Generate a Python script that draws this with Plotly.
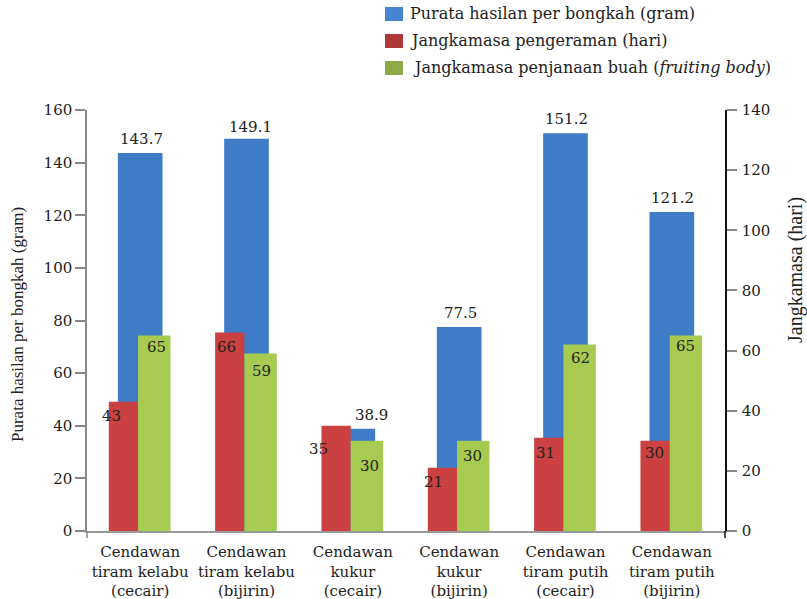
import plotly.graph_objects as go

# --- data -----------------------------------------------------------------
categories = [
    "Cendawan<br>tiram kelabu<br>(cecair)",
    "Cendawan<br>tiram kelabu<br>(bijirin)",
    "Cendawan<br>kukur<br>(cecair)",
    "Cendawan<br>kukur<br>(bijirin)",
    "Cendawan<br>tiram putih<br>(cecair)",
    "Cendawan<br>tiram putih<br>(bijirin)",
]
purata_hasilan = [143.7, 149.1, 38.9, 77.5, 151.2, 121.2]   # gram, left axis
pengeraman = [43, 66, 35, 21, 31, 30]                      # hari, right axis
penjanaan_buah = [65, 59, 30, 30, 62, 65]                  # hari, right axis

left_ticks = [0, 20, 40, 60, 80, 100, 120, 140, 160]
right_ticks = [0, 20, 40, 60, 80, 100, 120, 140]

series_names = [
    "Purata hasilan per bongkah (gram)",
    "Jangkamasa pengeraman (hari)",
    " Jangkamasa penjanaan buah (<i>fruiting body</i>)",
]

# --- styling --------------------------------------------------------------
W, H = 807, 599
ML, MR, MT, MB = 87, 82, 110, 68
FONT = "DejaVu Serif"
TXT = "#222222"
BLUE, RED, GREEN = "#3E7CC8", "#CB4040", "#A6CB50"
LEG_BLUE, LEG_RED, LEG_GREEN = "#4784D2", "#B03838", "#8CAB45"

# bar geometry in category units
BLUE_OFF, BLUE_W = -0.21, 0.42
RED_OFF, RED_W = -0.295, 0.275
GREEN_OFF, GREEN_W = -0.02, 0.305

# per-label nudges in pixels (x from the bar's reference edge/centre, y from the bar top)
blue_dx = [1, 4, 19, 1, 1, 1]
blue_dy = [14, 12, 14, 14, 14, 14]
red_dx = [3, 11, -3, 6, 11, 14]
red_dy = [-14, -14, -23, -14, -15, -12]
green_dx = [2, 1, 3, -1, 1, 0]
green_dy = [-11, -17, -25, -15, -13, -10]

pw, ph = W - ML - MR, H - MT - MB


def px_x(px):
    return (px - ML) / pw


def px_y(py):
    return (H - MB - py) / ph


x = list(range(len(categories)))

fig = go.Figure()
fig.add_trace(go.Bar(x=x, y=purata_hasilan, name=series_names[0], marker_color=BLUE,
                     marker_line_width=0, offset=BLUE_OFF, width=BLUE_W, yaxis="y",
                     showlegend=False))
fig.add_trace(go.Bar(x=x, y=pengeraman, name=series_names[1], marker_color=RED,
                     marker_line_width=0, offset=RED_OFF, width=RED_W, yaxis="y2",
                     showlegend=False))
fig.add_trace(go.Bar(x=x, y=penjanaan_buah, name=series_names[2], marker_color=GREEN,
                     marker_line_width=0, offset=GREEN_OFF, width=GREEN_W, yaxis="y2",
                     showlegend=False))

annotations = []
lab_font = dict(family=FONT, size=15, color=TXT)
for i in x:
    annotations.append(dict(x=i, y=purata_hasilan[i], xref="x", yref="y",
                            text=f"{purata_hasilan[i]:.1f}", showarrow=False,
                            xanchor="center", yanchor="middle",
                            xshift=blue_dx[i], yshift=blue_dy[i], font=lab_font))
    annotations.append(dict(x=i + RED_OFF, y=pengeraman[i], xref="x", yref="y2",
                            text=str(pengeraman[i]), showarrow=False,
                            xanchor="center", yanchor="middle",
                            xshift=red_dx[i], yshift=red_dy[i], font=lab_font))
    annotations.append(dict(x=i + GREEN_OFF + GREEN_W / 2, y=penjanaan_buah[i], xref="x", yref="y2",
                            text=str(penjanaan_buah[i]), showarrow=False,
                            xanchor="center", yanchor="middle",
                            xshift=green_dx[i], yshift=green_dy[i], font=lab_font))

# axis titles
annotations.append(dict(x=px_x(17), y=px_y(325), xref="paper", yref="paper",
                        text="Purata hasilan per bongkah (gram)", textangle=-90,
                        showarrow=False, xanchor="center", yanchor="middle",
                        font=dict(family="Liberation Serif", size=17, color=TXT)))
annotations.append(dict(x=px_x(795), y=px_y(270), xref="paper", yref="paper",
                        text="Jangkamasa (hari)", textangle=-90,
                        showarrow=False, xanchor="center", yanchor="middle",
                        font=dict(family="Liberation Serif", size=20, color=TXT)))

# legend
shapes = []
legend_rows = [(14, LEG_BLUE, 408), (41, LEG_RED, 408), (68, LEG_GREEN, 408)]
for (cy, col, tx), name in zip(legend_rows, series_names):
    shapes.append(dict(type="rect", xref="paper", yref="paper",
                       x0=px_x(385), x1=px_x(403), y0=px_y(cy - 7), y1=px_y(cy + 7),
                       fillcolor=col, line=dict(width=0)))
    annotations.append(dict(x=px_x(tx), y=px_y(cy), xref="paper", yref="paper",
                            text=name, showarrow=False, xanchor="left", yanchor="middle",
                            font=dict(family=FONT, size=16, color=TXT)))

# short axis stubs below the baseline
shapes.append(dict(type="line", xref="paper", yref="paper", x0=0, x1=0,
                   y0=px_y(531), y1=px_y(538), line=dict(color="#888888", width=1.5)))
shapes.append(dict(type="line", xref="paper", yref="paper", x0=1, x1=1,
                   y0=px_y(531), y1=px_y(538), line=dict(color="#111111", width=1.5)))

fig.update_layout(
    width=W, height=H,
    margin=dict(l=ML, r=MR, t=MT, b=MB, pad=0),
    paper_bgcolor="white", plot_bgcolor="white",
    barmode="overlay",
    font=dict(family=FONT, size=15, color=TXT),
    xaxis=dict(range=[-0.5, len(categories) - 0.5], tickmode="array", tickvals=x,
               ticktext=categories, showgrid=False, zeroline=False,
               showline=True, linecolor="#999999", linewidth=2, ticks="",
               ticklabelstandoff=6, automargin=False,
               tickfont=dict(family=FONT, size=15, color=TXT)),
    yaxis=dict(range=[0, 160], tickmode="array", tickvals=left_ticks, showgrid=False,
               zeroline=False, showline=True, linecolor="#888888", linewidth=1.5,
               ticks="outside", ticklen=10, tickcolor="#888888", tickwidth=1.5,
               automargin=False,
               tickfont=dict(family=FONT, size=15, color=TXT)),
    yaxis2=dict(range=[0, 140], tickmode="array", tickvals=right_ticks, overlaying="y",
                side="right", showgrid=False, zeroline=False, showline=True,
                linecolor="#111111", linewidth=1.5, ticks="outside", ticklen=10,
                tickcolor="#888888", tickwidth=1.5, ticklabelstandoff=2,
                automargin=False,
                tickfont=dict(family=FONT, size=15, color=TXT)),
    annotations=annotations,
    shapes=shapes,
)

fig.write_html("out.html")
